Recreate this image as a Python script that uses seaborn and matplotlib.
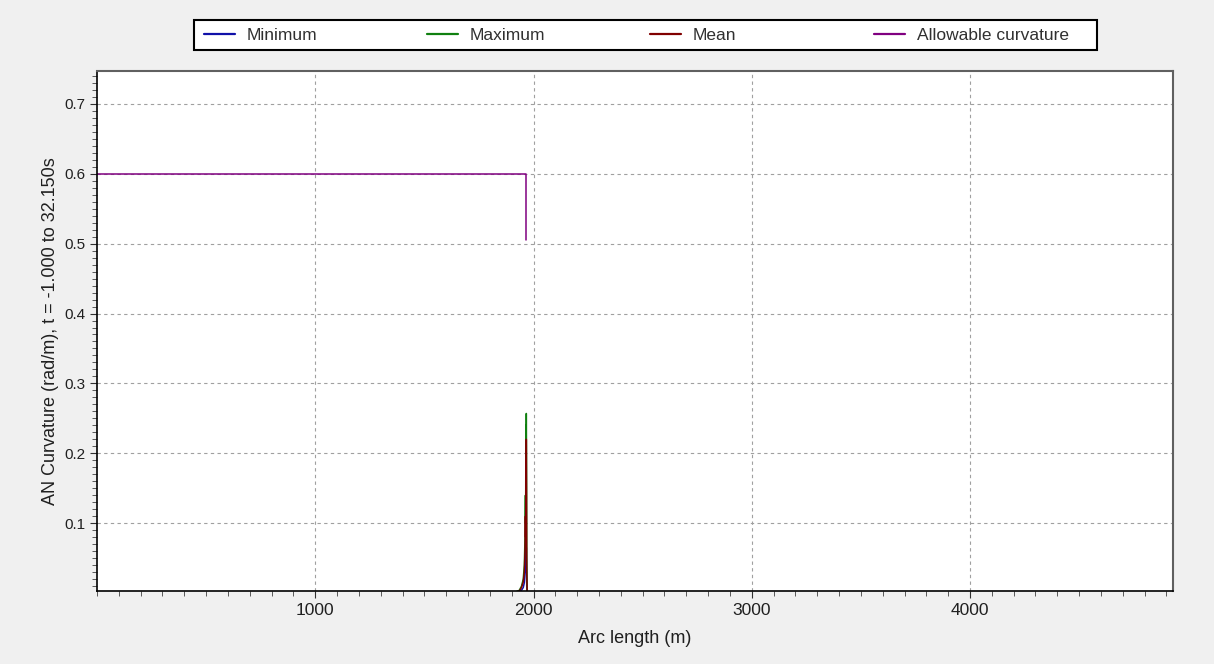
import numpy as np
import pandas as pd
import matplotlib
matplotlib.use("Agg")
import matplotlib.pyplot as plt
import seaborn as sns
from matplotlib.patches import Rectangle
from matplotlib.ticker import MultipleLocator, FixedLocator, FormatStrFormatter

# ---- data ----
arc_spike = [0, 1500, 1900, 1920, 1935, 1945, 1953, 1958, 1961, 1963, 1964, 1965, 1966, 1967, 1968, 1969, 1971]
curv_min  = [0, 0, 0.0005, 0.001, 0.002, 0.004, 0.008, 0.015, 0.03, 0.045, 0.03, 0.07, 0.045, 0.065, 0.03, 0.01, 0]
curv_max  = [0, 0, 0.001, 0.002, 0.004, 0.01, 0.02, 0.04, 0.08, 0.14, 0.10, 0.24, 0.17, 0.257, 0.19, 0.05, 0]
curv_mean = [0, 0, 0.0008, 0.0015, 0.003, 0.008, 0.016, 0.03, 0.06, 0.11, 0.08, 0.19, 0.13, 0.22, 0.15, 0.03, 0]
arc_allow  = [0, 1966, 1966]
curv_allow = [0.6, 0.6, 0.505]

series_names = ["Minimum", "Maximum", "Mean", "Allowable curvature"]
series_colors = ["#1010a8", "#108010", "#800000", "#800080"]
x_ticks = [1000, 2000, 3000, 4000]
y_ticks = [0.1, 0.2, 0.3, 0.4, 0.5, 0.6, 0.7]

sns.set_theme(style="white")
plt.rcParams["font.family"] = ["Liberation Sans", "DejaVu Sans"]
plt.rcParams["font.size"] = 9

W, H = 1214, 664
fig = plt.figure(figsize=(W / 100, H / 100), dpi=100, facecolor="#f0f0f0")
ax = fig.add_axes([97 / W, 73 / H, (1173 - 97) / W, (591 - 71) / H])
ax.set_facecolor("white")

data_sets = [
    (arc_spike, curv_min),
    (arc_spike, curv_max),
    (arc_spike, curv_mean),
    (arc_allow, curv_allow),
]
for (xs, ys), name, col in zip(data_sets, series_names, series_colors):
    sns.lineplot(x=xs, y=ys, estimator=None, sort=False, ax=ax,
                 color=col, linewidth=1.1, label=name)

ax.set_xlim(0, 4930)
ax.set_ylim(0.003, 0.747)
ax.xaxis.set_major_locator(FixedLocator(x_ticks))
ax.xaxis.set_minor_locator(MultipleLocator(100))
ax.yaxis.set_major_locator(FixedLocator(y_ticks))
ax.yaxis.set_minor_locator(MultipleLocator(0.01))
ax.yaxis.set_major_formatter(FormatStrFormatter("%.1f"))

ax.tick_params(axis="both", which="major", direction="out", length=5, width=0.8,
               color="#303030", labelcolor="#202020", pad=3.5,
               bottom=True, left=True)
ax.tick_params(axis="x", which="major", labelsize=12.5)
ax.tick_params(axis="y", which="major", labelsize=11)
ax.tick_params(axis="both", which="minor", direction="out", length=3.5, width=0.6,
               color="#404040", bottom=True, left=True)

ax.grid(True, which="major", color="#a0a0a0", linestyle=(0, (3, 3)), linewidth=0.8)

for side in ["left", "bottom"]:
    ax.spines[side].set_color("black")
    ax.spines[side].set_linewidth(1.2)
for side in ["top", "right"]:
    ax.spines[side].set_color("#606060")
    ax.spines[side].set_linewidth(1.5)

ax.set_xlabel("Arc length (m)", fontsize=13, color="#202020", labelpad=9)
ax.set_ylabel("AN Curvature (rad/m), t = -1.000 to 32.150s", fontsize=13,
              color="#202020", labelpad=4)

# ---- legend: framed box with four evenly spaced entries ----
ax.get_legend().remove()
handles, labels = ax.get_legend_handles_labels()
frame = Rectangle((194 / W, (H - 50) / H), (1097 - 194) / W, 30 / H,
                  transform=fig.transFigure, facecolor="white",
                  edgecolor="black", linewidth=1.5, zorder=1)
fig.add_artist(frame)
leg_fs = 12.5
fs_px = leg_fs * 100 / 72
handle_x = [204, 427, 650, 874]
for hx, h, lab in zip(handle_x, handles, labels):
    lg = fig.legend([h], [lab], loc="center left",
                    bbox_to_anchor=(hx / W, (H - 35) / H),
                    frameon=False, fontsize=leg_fs,
                    handlelength=31 / fs_px, handletextpad=12 / fs_px,
                    borderpad=0.0, borderaxespad=0.0)
    lg.set_zorder(2)
    for t in lg.get_texts():
        t.set_color("#303030")
    for line in lg.get_lines():
        line.set_linewidth(1.6)

fig.savefig("out.png", dpi=100, facecolor=fig.get_facecolor())
